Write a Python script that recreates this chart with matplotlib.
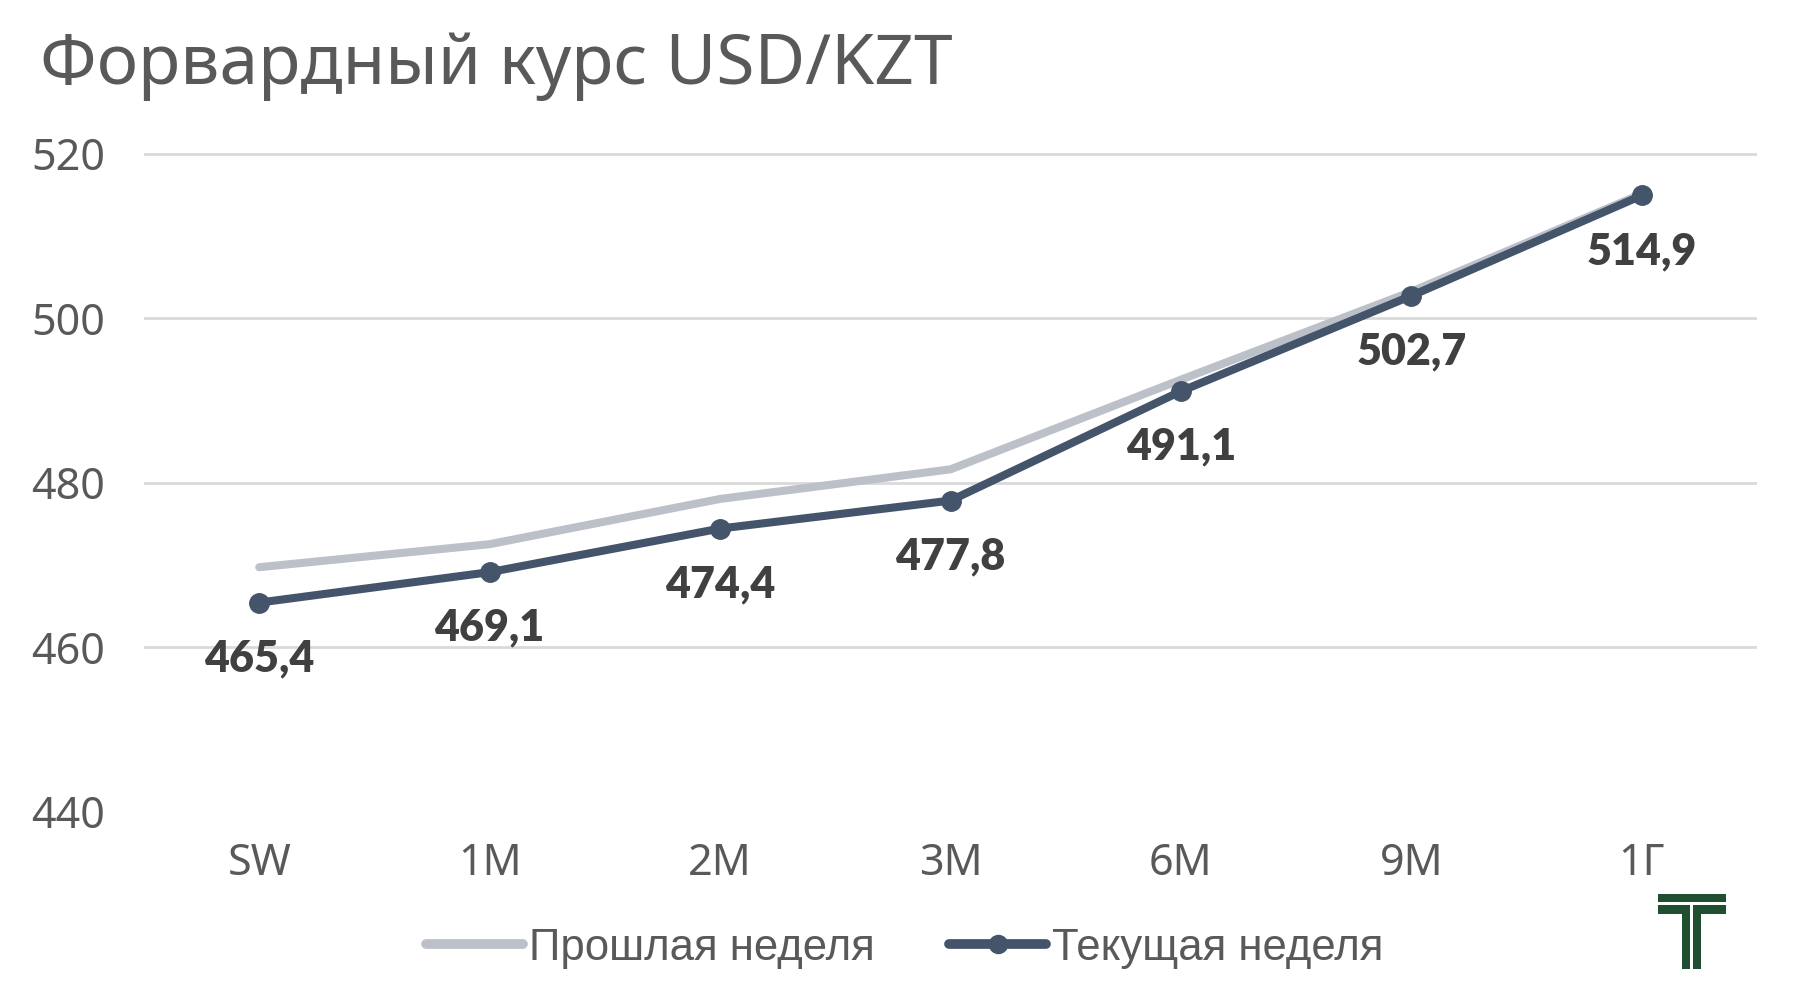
import matplotlib
matplotlib.use("Agg")
import matplotlib.pyplot as plt
from matplotlib.patches import Rectangle
from matplotlib.lines import Line2D

categories = ["SW", "1M", "2M", "3M", "6M", "9M", "1Г"]
prev_week = [469.7, 472.5, 478.0, 481.6, 492.5, 503.2, 515.1]
curr_week = [465.4, 469.1, 474.4, 477.8, 491.1, 502.7, 514.9]
curr_labels = ["465,4", "469,1", "474,4", "477,8", "491,1", "502,7", "514,9"]
yticks = [440, 460, 480, 500, 520]
title = "Форвардный курс USD/KZT"
legend_labels = ["Прошлая неделя", "Текущая неделя"]

W, H = 1810, 997
fig = plt.figure(figsize=(W / 100, H / 100), dpi=100)
fig.patch.set_facecolor("white")

ax = fig.add_axes([144 / W, 1 - 811.5 / H, (1757 - 144) / W, (811.5 - 153.5) / H])
x = list(range(len(categories)))

c_prev = "#bcc0c8"
c_curr = "#44546a"
txt = "#595959"

ax.plot(x, prev_week, color=c_prev, lw=5.8, solid_capstyle="round", zorder=2)
ax.plot(x, curr_week, color=c_curr, lw=5.8, marker="o", markersize=14,
        solid_capstyle="round", zorder=3)

for xi, yi, lab in zip(x, curr_week, curr_labels):
    ax.annotate(lab, (xi, yi), xytext=(0, -40), textcoords="offset points",
                ha="center", va="center", fontsize=31, fontweight="heavy",
                family=["Lato", "DejaVu Sans"], color="#404040", zorder=4)

ax.set_xlim(-0.5, 6.5)
ax.set_ylim(440, 520)
ax.set_yticks(yticks)
ax.set_xticks(x)
ax.set_xticklabels(categories)
ax.grid(axis="y", color="#d9d9d9", lw=2)
ax.set_axisbelow(True)
for s in ax.spines.values():
    s.set_visible(False)
ax.tick_params(axis="both", length=0, labelsize=31, labelcolor=txt)
ax.tick_params(axis="y", pad=28)
ax.tick_params(axis="x", pad=22)
for lab in ax.get_xticklabels() + ax.get_yticklabels():
    lab.set_family(["Noto Sans", "DejaVu Sans"])
    lab.set_fontweight("light")

fig.text(40 / W, 1 - 66 / H, title, fontsize=50, color=txt, ha="left", va="center",
         family=["Noto Sans", "DejaVu Sans"], fontweight="light")

handles = [
    Line2D([], [], color=c_prev, lw=7, solid_capstyle="round"),
    Line2D([], [], color=c_curr, lw=7, marker="o", markersize=13, solid_capstyle="round"),
]
leg = fig.legend(handles, legend_labels, loc="center", bbox_to_anchor=(0.5, 1 - 948 / H),
                 ncol=2, frameon=False, handlelength=2.2, handletextpad=0.15,
                 columnspacing=1.7,
                 prop={"family": ["Liberation Sans", "DejaVu Sans"], "size": 31.5})
for t in leg.get_texts():
    t.set_color(txt)

# logo
green = "#1f4e30"
def rect(x0, y0, x1, y1):
    fig.patches.append(Rectangle((x0 / W, 1 - y1 / H), (x1 - x0) / W, (y1 - y0) / H,
                                 transform=fig.transFigure, color=green, lw=0))
rect(1658, 894, 1726, 902)
rect(1658, 905, 1690, 914)
rect(1682, 905, 1690, 969)
rect(1693, 905, 1726, 914)
rect(1693, 905, 1701, 969)

fig.savefig("out.png", dpi=100, facecolor="white")
